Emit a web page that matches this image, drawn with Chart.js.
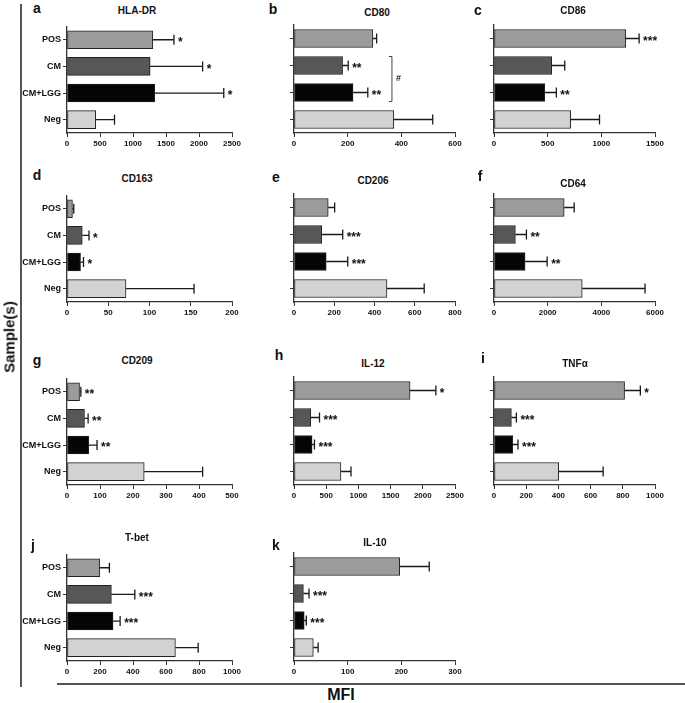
<!DOCTYPE html>
<html><head><meta charset="utf-8">
<script src="https://cdn.jsdelivr.net/npm/chart.js@4"></script>
<style>
body{margin:0;width:685px;height:703px;background:#fff;position:relative;overflow:hidden;font-family:'Liberation Sans',Arial,sans-serif;font-weight:bold;color:#111}
canvas{position:absolute}
.t{position:absolute;transform:translate(-50%,-50%);white-space:nowrap}
.line{position:absolute;background:#555}
</style></head><body>
<script>
// groups and per-marker values (mean MFI, error = SD above the mean)
const groups = ['POS', 'CM', 'CM+LGG', 'Neg'];
const markers = ['HLA-DR', 'CD80', 'CD86', 'CD163', 'CD206', 'CD64', 'CD209', 'IL-12', 'TNF\u03b1', 'T-bet', 'IL-10'];
const letters = ['a', 'b', 'c', 'd', 'e', 'f', 'g', 'h', 'i', 'j', 'k'];

const hladr = [1300, 1260, 1330, 435],   hladrErr = [320, 795, 1045, 285];
const cd80 = [294, 181, 220, 372],       cd80Err = [14, 21, 55, 145];
const cd86 = [1228, 538, 473, 714],      cd86Err = [124, 121, 108, 269];
const cd163 = [6.6, 18.5, 16.4, 71.5],   cd163Err = [1.6, 8.2, 3.6, 82.5];
const cd206 = [170, 138, 160, 462],      cd206Err = [32, 104, 107, 185];
const cd64 = [2615, 797, 1158, 3288],    cd64Err = [374, 411, 822, 2341];
const cd209 = [38, 53, 66, 234],         cd209Err = [4, 11, 25, 177];
const il12 = [1802, 260, 281, 729],      il12Err = [401, 136, 37, 156];
const tnfa = [811, 108, 116, 402],       tnfaErr = [98, 31, 33, 276];
const tbet = [199, 269, 279, 657],       tbetErr = [58, 142, 43, 138];
const il10 = [197, 17.5, 19, 36],        il10Err = [55, 10.5, 4, 9];

const stars = [
  ['*', '*', '*', ''], ['', '**', '**', ''], ['***', '', '**', ''], ['', '*', '*', ''],
  ['', '***', '***', ''], ['', '**', '**', ''], ['**', '**', '**', ''], ['*', '***', '***', ''],
  ['*', '***', '***', ''], ['', '***', '***', ''], ['', '***', '***', '']
];
const axisMax = [2500, 600, 1500, 200, 800, 6000, 500, 2500, 1000, 1000, 300];
const axisStep = [500, 200, 500, 50, 200, 2000, 100, 500, 200, 200, 100];
// CD80: CM vs CM+LGG bracket
const cd80Bracket = {from: 1, to: 2, at: 365, label: '#'};

const means = [hladr, cd80, cd86, cd163, cd206, cd64, cd209, il12, tnfa, tbet, il10];
const errs = [hladrErr, cd80Err, cd86Err, cd163Err, cd206Err, cd64Err, cd209Err, il12Err, tnfaErr, tbetErr, il10Err];

// layout
const colLeft = [67, 294, 494], colRight = [232, 455, 655], rowTop = [25, 194, 377, 553];
const yAxisW = [62, 40, 30];
const panelCol = [0, 1, 2, 0, 1, 2, 0, 1, 2, 0, 1];
const panelRow = [0, 0, 0, 1, 1, 1, 2, 2, 2, 3, 3];
const letterPos = [[37, 8], [273, 9], [478, 10], [37, 175], [276, 177], [480, 176], [37, 360], [279, 355], [483, 358], [33, 545], [276, 545]];
const titlePos = [[137, 10], [377, 12], [573, 10], [137, 178], [373, 180], [573, 183], [137, 360], [373, 363], [575, 363], [137, 537], [375, 542]];
const barColors = ['#9b9b9b', '#575757', '#050505', '#d2d2d2'];
const plotH = 108, padTop = 6, xAxisH = 22, padRight = 22;

Chart.defaults.font.family = "'Liberation Sans', Arial, sans-serif";
Chart.defaults.font.weight = 'bold';
Chart.defaults.color = '#111';

function addText(txt, x, y, size, rot) {
  const d = document.createElement('div');
  d.className = 't';
  d.textContent = txt;
  d.style.left = x + 'px';
  d.style.top = y + 'px';
  d.style.fontSize = size + 'px';
  if (rot) d.style.transform = 'translate(-50%,-50%) rotate(' + rot + 'deg)';
  document.body.appendChild(d);
}

function errorPlugin(k) {
  return {
    id: 'errorBars' + k,
    afterDatasetsDraw(chart) {
      const ctx = chart.ctx, xs = chart.scales.x;
      const meta = chart.getDatasetMeta(0);
      ctx.save();
      ctx.strokeStyle = '#1a1a1a';
      ctx.lineWidth = 1.3;
      meta.data.forEach((bar, i) => {
        const x0 = xs.getPixelForValue(means[k][i]);
        const x1 = xs.getPixelForValue(means[k][i] + errs[k][i]);
        const y = bar.y;
        ctx.beginPath();
        ctx.moveTo(x0, y); ctx.lineTo(x1, y);
        ctx.moveTo(x1, y - 5); ctx.lineTo(x1, y + 5);
        ctx.stroke();
        if (stars[k][i]) {
          ctx.fillStyle = '#111';
          ctx.font = "bold 12px 'Liberation Sans', Arial";
          ctx.textAlign = 'left';
          ctx.textBaseline = 'middle';
          ctx.fillText(stars[k][i], x1 + 4, y + 3);
        }
      });
      if (k === 1) {
        const b = cd80Bracket;
        const bx = xs.getPixelForValue(b.at);
        const y1 = meta.data[b.from].y - 9, y2 = meta.data[b.to].y + 9;
        ctx.lineWidth = 1;
        ctx.strokeStyle = '#444';
        ctx.beginPath();
        ctx.moveTo(bx - 3, y1); ctx.lineTo(bx, y1); ctx.lineTo(bx, y2); ctx.lineTo(bx - 3, y2);
        ctx.stroke();
        ctx.fillStyle = '#111';
        ctx.font = "bold 9px 'Liberation Sans', Arial";
        ctx.textAlign = 'left';
        ctx.textBaseline = 'middle';
        ctx.fillText(b.label, bx + 4, (y1 + y2) / 2);
      }
      ctx.restore();
    }
  };
}

for (let k = 0; k < markers.length; k++) {
  const col = panelCol[k], row = panelRow[k];
  const yw = yAxisW[col];
  const cv = document.createElement('canvas');
  const w = yw + (colRight[col] - colLeft[col]) + padRight;
  const h = padTop + plotH + xAxisH;
  cv.width = w; cv.height = h;
  cv.style.left = (colLeft[col] - yw) + 'px';
  cv.style.top = (rowTop[row] - padTop) + 'px';
  document.body.appendChild(cv);

  new Chart(cv, {
    type: 'bar',
    data: {
      labels: groups,
      datasets: [{
        data: means[k],
        backgroundColor: barColors,
        borderColor: '#222',
        borderWidth: 1,
        borderSkipped: false,
        barThickness: 18
      }]
    },
    options: {
      indexAxis: 'y',
      responsive: false,
      devicePixelRatio: 1,
      animation: false,
      layout: {padding: {top: padTop, right: padRight, left: 0, bottom: 0}},
      scales: {
        y: {
          afterFit: s => { s.width = yw; },
          grid: {drawOnChartArea: false, offset: false, tickLength: 4, color: '#333', lineWidth: 1},
          border: {display: true, color: '#333', width: 1.3},
          ticks: {display: col === 0, font: {size: 9, weight: 'bold'}, color: '#111', padding: 2}
        },
        x: {
          min: 0, max: axisMax[k],
          afterFit: s => { s.height = xAxisH; },
          grid: {drawOnChartArea: false, tickLength: 4, color: '#333', lineWidth: 1},
          border: {display: true, color: '#333', width: 1.3},
          ticks: {stepSize: axisStep[k], font: {size: 8, weight: 'bold'}, color: '#111', padding: 2, maxRotation: 0,
                  callback: v => String(v)}
        }
      },
      plugins: {legend: {display: false}, tooltip: {enabled: false}}
    },
    plugins: [errorPlugin(k)]
  });

  addText(letters[k], letterPos[k][0], letterPos[k][1], 14);
  addText(markers[k], titlePos[k][0], titlePos[k][1], 10);
}

// frame lines and axis captions
const vl = document.createElement('div');
vl.className = 'line';
vl.style.cssText = 'left:20px;top:4px;width:1.5px;height:683px';
document.body.appendChild(vl);
const hl = document.createElement('div');
hl.className = 'line';
hl.style.cssText = 'left:57px;top:683px;width:628px;height:1.5px';
document.body.appendChild(hl);
addText('Sample(s)', 9, 337, 15, -90);
addText('MFI', 341, 695, 16);
</script>
</body></html>
